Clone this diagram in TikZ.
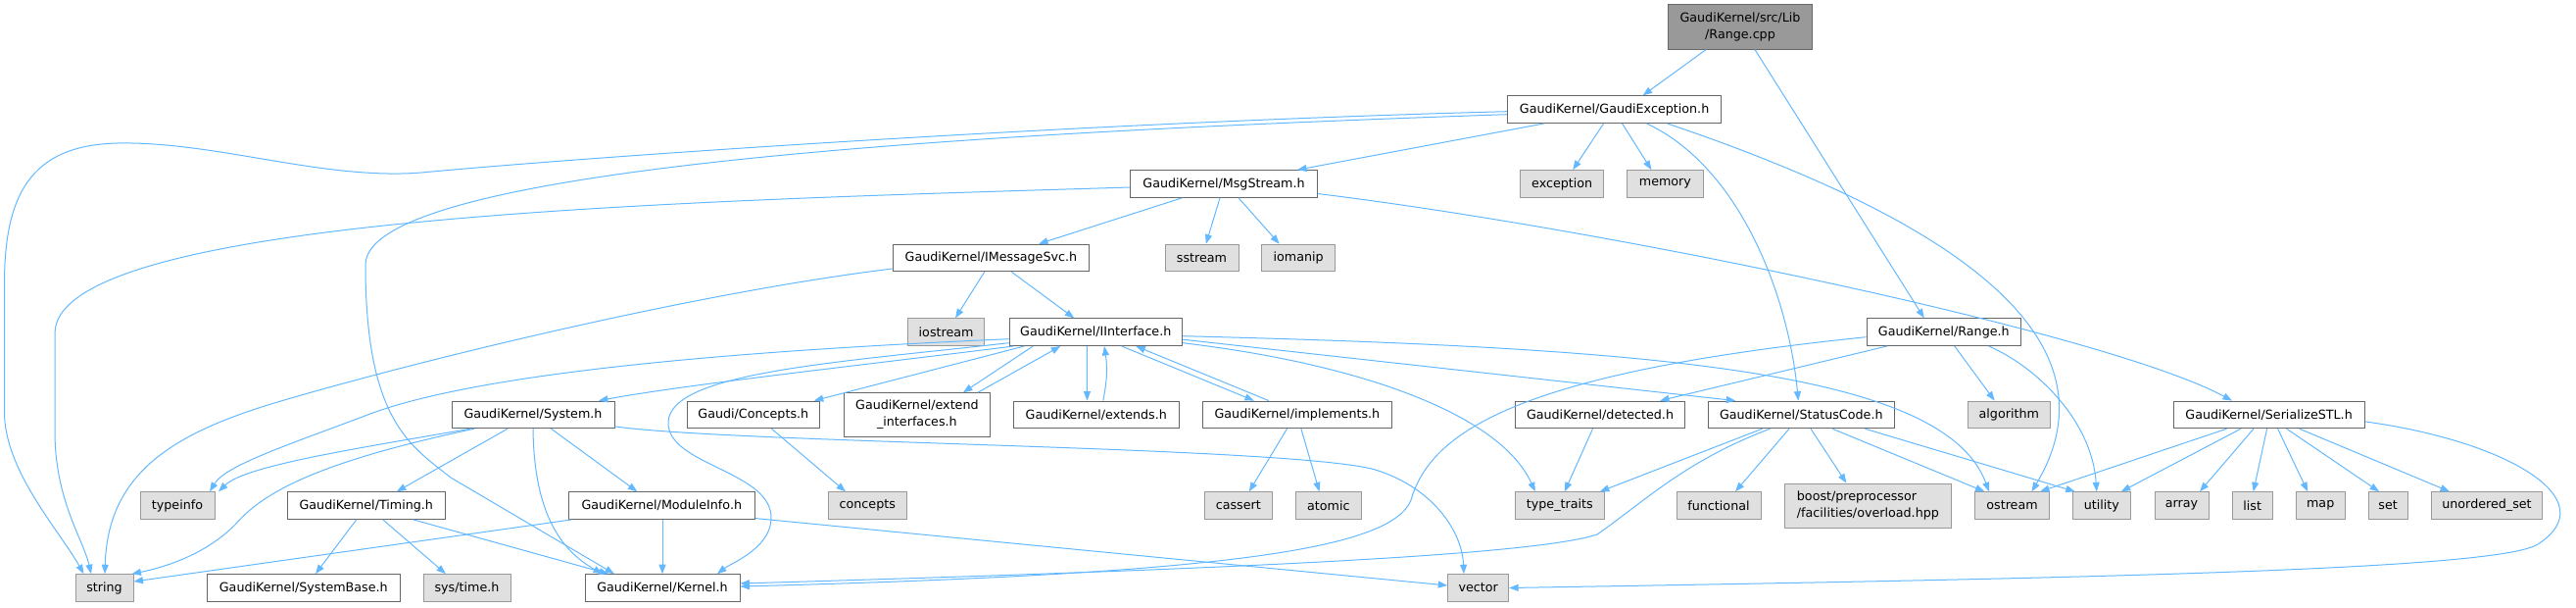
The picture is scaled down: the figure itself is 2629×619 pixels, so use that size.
\documentclass[tikz,border=0pt]{standalone}
\usepackage{fontspec}
\setmainfont{DejaVu Sans}
\usetikzlibrary{arrows.meta}
\definecolor{edgec}{HTML}{63B8FF}
\definecolor{bordn}{HTML}{666666}
\definecolor{borde}{HTML}{999999}
\definecolor{fille}{HTML}{E0E0E0}
\definecolor{fillr}{HTML}{999999}
\tikzset{
  nd/.style={draw=bordn, fill=white, line width=1pt, inner sep=0pt, minimum height=27.6pt,
    font=\fontsize{12.7pt}{17pt}\selectfont, text=black},
  ext/.style={nd, draw=borde, fill=fille},
  rootnd/.style={nd, fill=fillr, draw=bordn},
  dep/.style={draw=edgec, line width=1pt, -{Triangle[length=9.5pt,width=7pt]}},
}
\begin{document}
\begin{tikzpicture}[x=1pt,y=-1pt]
\useasboundingbox (0,0) rectangle (2629,619);
% rank 0
\node[rootnd, minimum width=146.7pt, minimum height=45.4pt, align=center] (rangecpp) at (1776,27.4) {GaudiKernel/src/Lib\\/Range.cpp};
% rank 1
\node[nd, minimum width=218.4pt] (gexc) at (1647.6,111.7) {GaudiKernel/GaudiException.h};
% rank 2
\node[nd, minimum width=190.8pt] (msg) at (1249,187.5) {GaudiKernel/MsgStream.h};
\node[ext, minimum width=85pt] (exception) at (1594.2,187.5) {exception};
\node[ext, minimum width=77.2pt] (memory) at (1699.4,187.5) {memory};
% rank 3
\node[nd, minimum width=200.7pt] (imsg) at (1011.4,263) {GaudiKernel/IMessageSvc.h};
\node[ext, minimum width=75pt] (sstream) at (1226.5,263) {sstream};
\node[ext, minimum width=74.5pt] (iomanip) at (1325.2,263) {iomanip};
% rank 4
\node[ext, minimum width=78.2pt] (iostream) at (965.6,338.7) {iostream};
\node[nd, minimum width=176.5pt] (iint) at (1118.3,338.7) {GaudiKernel/IInterface.h};
\node[nd, minimum width=157.6pt] (rangeh) at (1983.8,338.7) {GaudiKernel/Range.h};
% rank 5
\node[nd, minimum width=166pt] (system) at (544,422.9) {GaudiKernel/System.h};
\node[nd, minimum width=135.6pt] (concepth) at (768.8,422.9) {Gaudi/Concepts.h};
\node[nd, minimum width=149.7pt, minimum height=44.3pt, align=center] (extint) at (935.9,422.9) {GaudiKernel/extend\\\_interfaces.h};
\node[nd, minimum width=168.5pt] (extends) at (1118.8,422.9) {GaudiKernel/extends.h};
\node[nd, minimum width=193.7pt] (impl) at (1323.9,422.9) {GaudiKernel/implements.h};
\node[nd, minimum width=172.9pt] (detected) at (1633,422.9) {GaudiKernel/detected.h};
\node[nd, minimum width=190.1pt] (status) at (1838.3,422.9) {GaudiKernel/StatusCode.h};
\node[ext, minimum width=84.5pt] (algorithm) at (2050.3,422.9) {algorithm};
\node[nd, minimum width=195.2pt] (serial) at (2315.6,422.9) {GaudiKernel/SerializeSTL.h};
% rank 6
\node[ext, minimum width=76pt] (typeinfo) at (181,515.6) {typeinfo};
\node[nd, minimum width=161.5pt] (timing) at (373.8,515.6) {GaudiKernel/Timing.h};
\node[nd, minimum width=190.5pt] (modinfo) at (675.3,515.6) {GaudiKernel/ModuleInfo.h};
\node[ext, minimum width=79.4pt] (concepts) at (885.3,515.6) {concepts};
\node[ext, minimum width=69.5pt] (cassert) at (1263.8,515.6) {cassert};
\node[ext, minimum width=66.5pt] (atomic) at (1355.8,515.6) {atomic};
\node[ext, minimum width=90.5pt] (typetraits) at (1591.8,515.6) {type\_traits};
\node[ext, minimum width=86pt] (functional) at (1754,515.6) {functional};
\node[ext, minimum width=170.7pt, minimum height=45pt, align=left] (boost) at (1906.4,515.6) {boost/preprocessor\\/facilities/overload.hpp};
\node[ext, minimum width=76pt] (ostream) at (2053.5,515.6) {ostream};
\node[ext, minimum width=59.6pt] (utility) at (2144.8,515.6) {utility};
\node[ext, minimum width=55pt] (array) at (2226.5,515.6) {array};
\node[ext, minimum width=40.7pt] (list) at (2298.7,515.6) {list};
\node[ext, minimum width=49.6pt] (map) at (2368.2,515.6) {map};
\node[ext, minimum width=39.8pt] (set) at (2437.1,515.6) {set};
\node[ext, minimum width=113.6pt] (unordered) at (2538,515.6) {unordered\_set};
% rank 7
\node[ext, minimum width=59pt] (string) at (106.5,599.5) {string};
\node[nd, minimum width=197.5pt] (systembase) at (309.8,599.5) {GaudiKernel/SystemBase.h};
\node[ext, minimum width=89pt] (systime) at (476.5,599.5) {sys/time.h};
\node[nd, minimum width=158pt] (kernel) at (676,599.5) {GaudiKernel/Kernel.h};
\node[ext, minimum width=61.9pt] (vector) at (1508.7,599.5) {vector};

% ---- edges ----
\draw[dep] ([xshift=-35pt]rangecpp.south) -- ([xshift=29pt]gexc.north);
\draw[dep] ([xshift=15pt]rangecpp.south) -- ([xshift=-20pt]rangeh.north);

\draw[dep] ([xshift=-72pt]gexc.south) -- ([xshift=75pt]msg.north);
\draw[dep] ([xshift=-11pt]gexc.south) -- ([xshift=11pt]exception.north);
\draw[dep] ([xshift=8pt]gexc.south) -- ([xshift=-14pt]memory.north);
\draw[dep] ([xshift=33pt]gexc.south) .. controls (1775,170) and (1825,300) .. ([xshift=-3pt]status.north);
\draw[dep] ([xshift=54pt]gexc.south) .. controls (1980,220) and (2170,340) .. ([xshift=20pt]ostream.north);
\draw[dep] ([yshift=-2pt]gexc.west) .. controls (1100,125) and (600,160) .. (430,176)
   .. controls (330,184) and (220,144) .. (120,146)
   .. controls (30,148) and (4.5,200) .. (4.5,290) -- (4.5,420)
   .. controls (4.5,480) and (60,540) .. ([xshift=-21pt]string.north);
\draw[dep] ([yshift=-5pt]gexc.west) .. controls (1000,135) and (373,170) .. (373,270)
   .. controls (373,430) and (420,455) .. (460,487) -- ([xshift=-49pt]kernel.north);

\draw[dep] ([xshift=-42.5pt]msg.south) -- ([xshift=48.6pt]imsg.north);
\draw[dep] ([xshift=-4pt]msg.south) -- ([xshift=4.3pt]sstream.north);
\draw[dep] ([xshift=15pt]msg.south) -- ([xshift=-19.5pt]iomanip.north);
\draw[dep] ([yshift=-10pt]msg.east) .. controls (1650,235) and (2150,340) .. ([xshift=-37.6pt]serial.north);
\draw[dep] ([yshift=-3.5pt]msg.west) .. controls (700,205) and (56,220) .. (56,340) -- (56,440)
   .. controls (56,510) and (85,550) .. ([xshift=-13.5pt]string.north);

\draw[dep] ([xshift=-6.7pt]imsg.south) -- ([xshift=9.4pt]iostream.north);
\draw[dep] ([xshift=21pt]imsg.south) -- ([xshift=-22pt]iint.north);
\draw[dep] ([yshift=-11pt]imsg.west) .. controls (700,300) and (420,370) .. (290,408)
   .. controls (180,440) and (110,480) .. ([xshift=0.5pt]string.north);

\draw[dep] ([yshift=-7pt]iint.west) .. controls (700,360) and (470,385) .. (370,425)
   .. controls (290,455) and (230,475) .. ([xshift=33pt]typeinfo.north);
\draw[dep] ([yshift=-11pt]iint.west) .. controls (850,370) and (685,380) .. (682,430)
   .. controls (680,475) and (790,480) .. (787,530)
   .. controls (785,560) and (745,575) .. ([xshift=56pt]kernel.north);
\draw[dep] ([xshift=-84pt]iint.south) .. controls (900,370) and (700,392) .. ([xshift=67pt]system.north);
\draw[dep] ([xshift=-73pt]iint.south) -- ([xshift=62pt]concepth.north);
\draw[dep] ([xshift=-64pt]iint.south) -- ([xshift=47pt]extint.north);
\draw[dep] ([xshift=62pt]extint.north) -- ([xshift=-36pt]iint.south);
\draw[dep] ([xshift=-9pt]iint.south) -- ([xshift=-9.3pt]extends.north);
\draw[dep] ([xshift=7pt]extends.north) to[bend right=10] ([xshift=8.7pt]iint.south);
\draw[dep] ([xshift=26.5pt]iint.south) -- ([xshift=-44pt]impl.north);
\draw[dep] ([xshift=-29pt]impl.north) -- ([xshift=41pt]iint.south);
\draw[dep] ([yshift=-4pt]iint.east) .. controls (1700,355) and (1985,380) .. ([xshift=-23.5pt]ostream.north);
\draw[dep] ([yshift=-7.5pt]iint.east) -- ([xshift=-67pt]status.north);
\draw[dep] ([yshift=-11pt]iint.east) .. controls (1380,370) and (1530,420) .. ([xshift=-25pt]typetraits.north);

\draw[dep] ([xshift=-58pt]rangeh.south) -- ([xshift=61pt]detected.north);
\draw[dep] ([xshift=11pt]rangeh.south) -- ([xshift=-14.6pt]algorithm.north);
\draw[dep] ([xshift=46pt]rangeh.south) .. controls (2080,375) and (2135,430) .. ([xshift=-5pt]utility.north);
\draw[dep] ([yshift=-5pt]rangeh.west) .. controls (1550,380) and (1460,440) .. (1440,510)
   .. controls (1420,560) and (1250,585) .. ([yshift=1.5pt]kernel.east);

\draw[dep] ([xshift=-31.8pt]status.south) .. controls (1720,470) and (1680,510) .. (1630,545)
   .. controls (1560,568) and (1200,582) .. ([yshift=4.5pt]kernel.east);
\draw[dep] ([xshift=-39.7pt]status.south) -- ([xshift=41pt]typetraits.north);
\draw[dep] ([xshift=-12.3pt]status.south) -- ([xshift=17pt]functional.north);
\draw[dep] ([xshift=9.7pt]status.south) -- ([xshift=-22pt]boost.north);
\draw[dep] ([xshift=31.7pt]status.south) -- ([xshift=-28pt]ostream.north);
\draw[dep] ([xshift=65pt]status.south) -- ([xshift=-27pt]utility.north);

\draw[dep] ([xshift=-7.5pt]detected.south) -- ([xshift=5pt]typetraits.north);
\draw[dep] ([xshift=-10.4pt]impl.south) -- ([xshift=11pt]cassert.north);
\draw[dep] ([xshift=4pt]impl.south) -- ([xshift=-9.3pt]atomic.north);
\draw[dep] ([xshift=18.7pt]concepth.south) -- ([xshift=-22.3pt]concepts.north);

\draw[dep] ([xshift=-43pt]serial.south) -- ([xshift=28.5pt]ostream.north);
\draw[dep] ([xshift=-28.6pt]serial.south) -- ([xshift=20pt]utility.north);
\draw[dep] ([xshift=-15.6pt]serial.south) -- ([xshift=18.5pt]array.north);
\draw[dep] ([xshift=-2pt]serial.south) -- ([xshift=1pt]list.north);
\draw[dep] ([xshift=9pt]serial.south) -- ([xshift=-13pt]map.north);
\draw[dep] ([xshift=18pt]serial.south) -- ([xshift=-9pt]set.north);
\draw[dep] ([xshift=31pt]serial.south) -- ([xshift=-38pt]unordered.north);
\draw[dep] ([yshift=-7pt]serial.east) .. controls (2560,450) and (2660,510) .. (2590,555)
   .. controls (2548,582) and (2100,590) .. (vector.east);

\draw[dep] ([xshift=-64pt]system.south) .. controls (360,458) and (250,475) .. ([xshift=42pt]typeinfo.north);
\draw[dep] ([xshift=-60pt]system.south) .. controls (330,470) and (270,500) .. (240,535)
   .. controls (210,565) and (170,578) .. ([xshift=28pt]string.north);
\draw[dep] ([xshift=-26pt]system.south) -- ([xshift=31pt]timing.north);
\draw[dep] (system.south) .. controls (545,520) and (570,560) .. ([xshift=-61pt]kernel.north);
\draw[dep] ([xshift=18.5pt]system.south) -- ([xshift=-25pt]modinfo.north);
\draw[dep] ([yshift=-12pt]system.east) .. controls (750,452) and (1300,455) .. (1400,478)
   .. controls (1460,495) and (1492,540) .. ([xshift=-14.7pt]vector.north);

\draw[dep] ([xshift=-10pt]timing.south) -- ([xshift=12.2pt]systembase.north);
\draw[dep] ([xshift=17pt]timing.south) -- ([xshift=-21.5pt]systime.north);
\draw[dep] ([xshift=48pt]timing.south) -- ([xshift=-55pt]kernel.north);

\draw[dep] ([xshift=-92pt]modinfo.south) -- ([yshift=6.5pt]string.east);
\draw[dep] ([xshift=0.7pt]modinfo.south) -- (kernel.north);
\draw[dep] ([yshift=-13pt]modinfo.east) -- ([yshift=2.5pt]vector.west);
\end{tikzpicture}
\end{document}
